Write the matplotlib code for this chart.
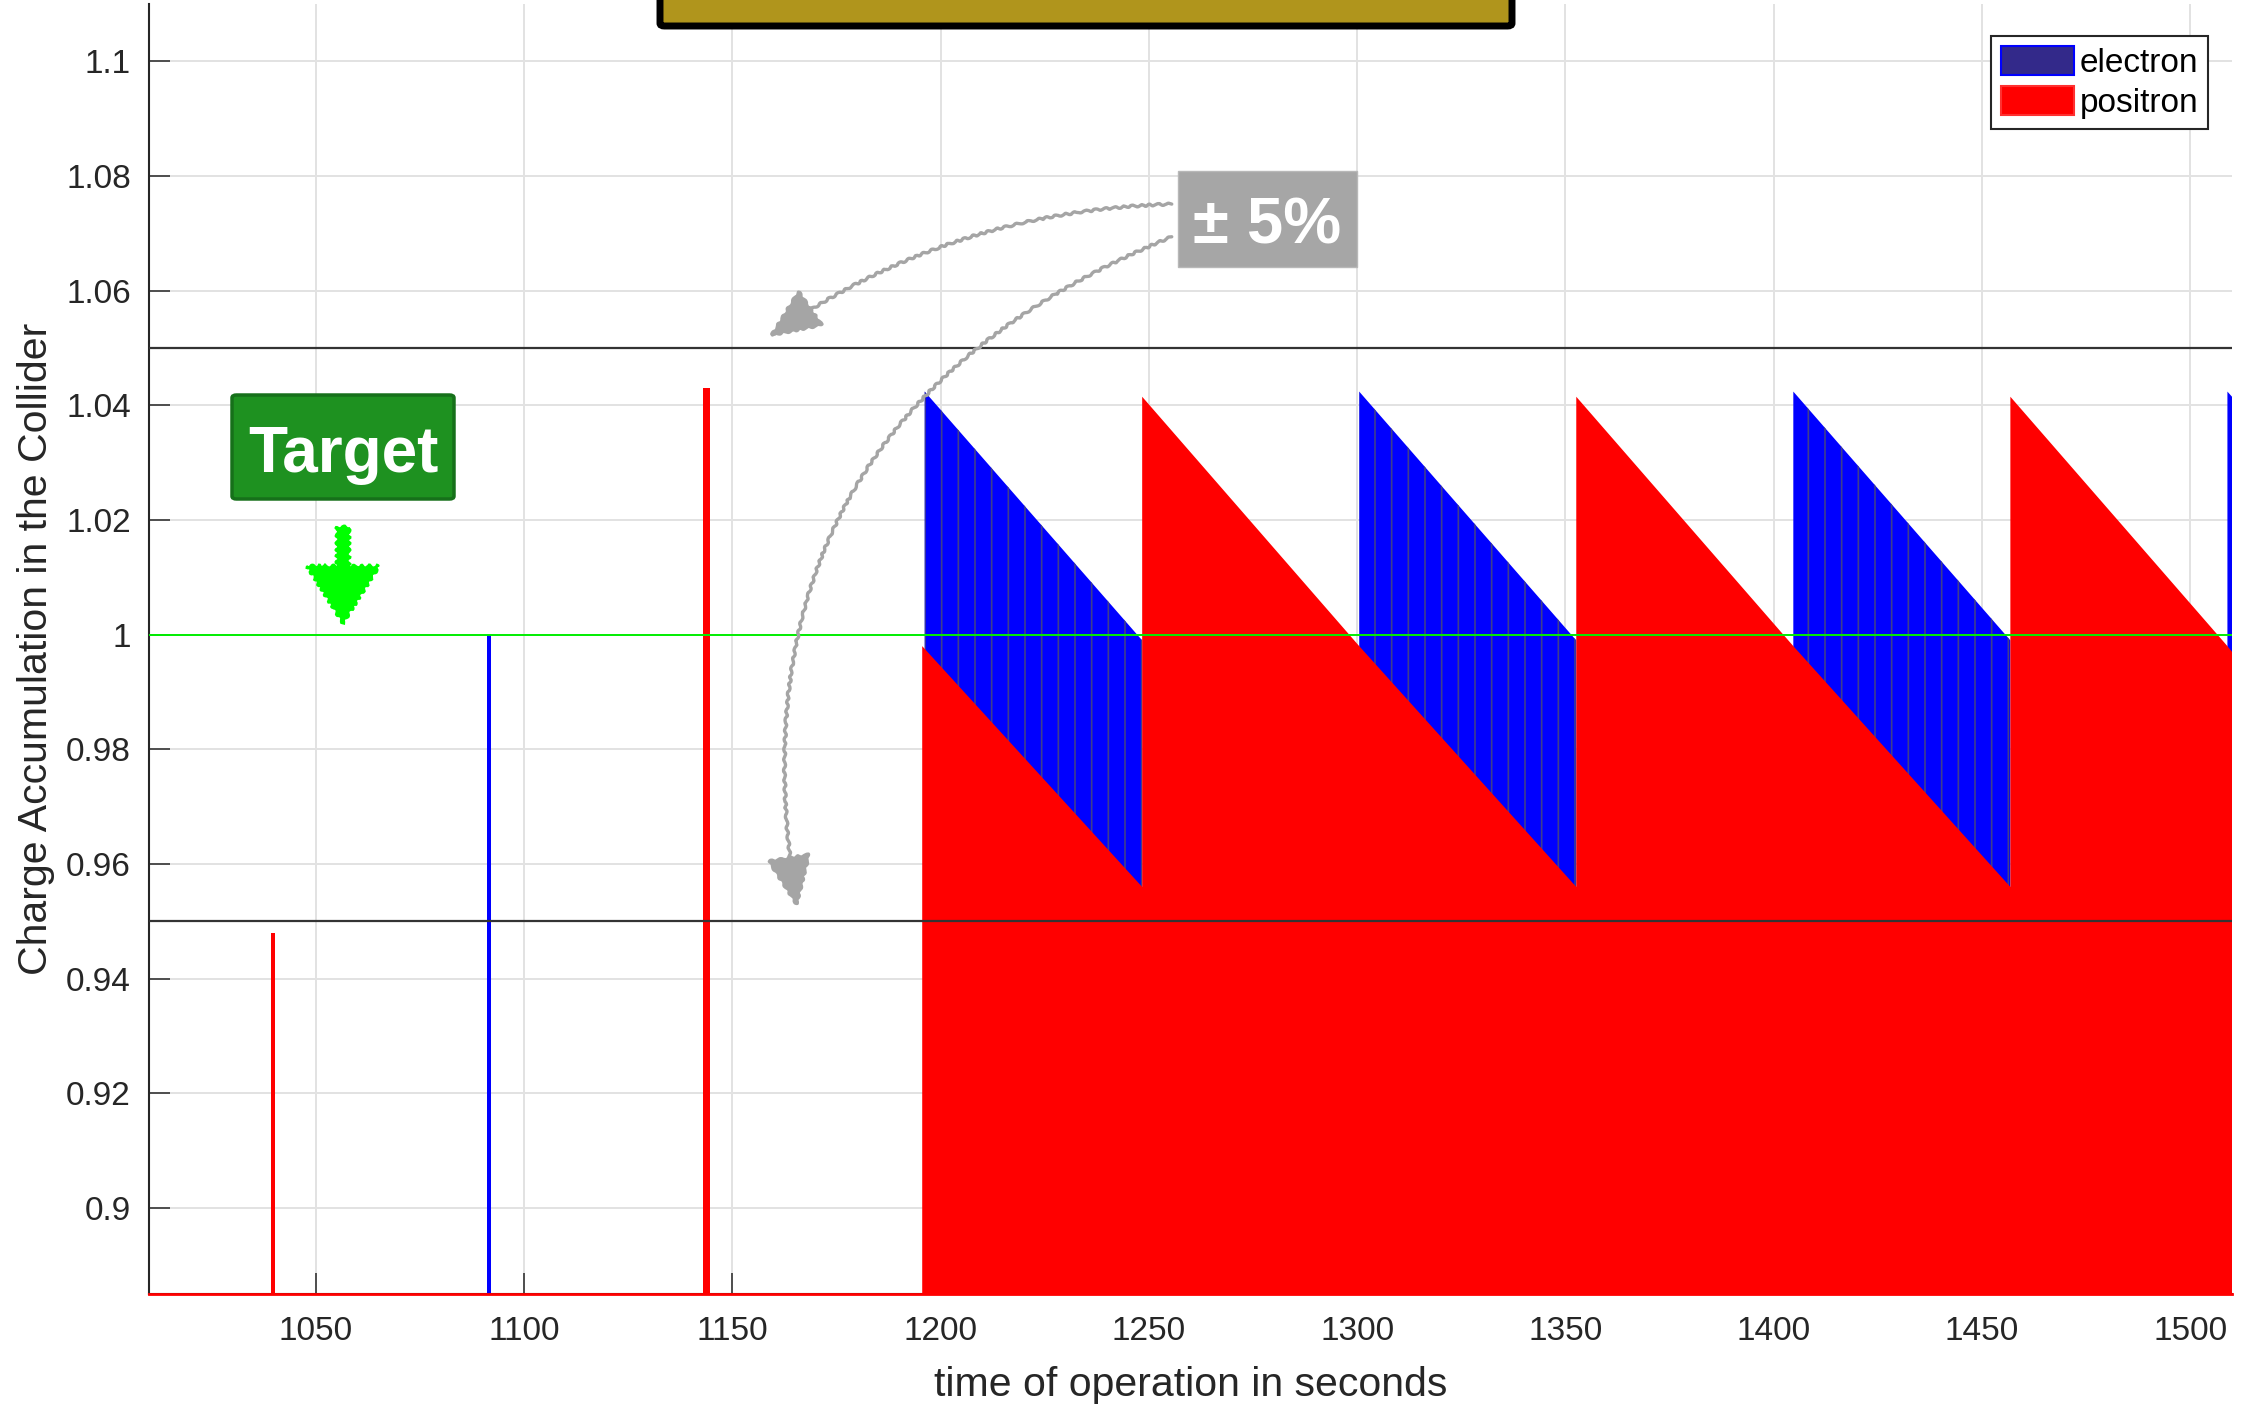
import matplotlib
matplotlib.use('Agg')
import matplotlib.pyplot as plt
import matplotlib.patches as patches
from matplotlib.patches import Patch
from matplotlib.ticker import FixedLocator, FuncFormatter

plt.rcParams['font.family'] = ['Liberation Sans', 'DejaVu Sans']
plt.rcParams['hatch.linewidth'] = 1.2

W, H = 2241, 1404

# first single injections before the top-up mode starts
spike_t = [1039.8, 1091.7, 1143.9]
spike_v = [0.948, 1.000, 1.043]
spike_w = [0.9, 0.9, 1.6]
spike_c = ['#FF0000', '#0000FF', '#FF0000']

# positron sawtooth (corner points of the filled region)
pos_t = [1195.6, 1248.4, 1248.4, 1300.5, 1352.6, 1352.6, 1404.7, 1456.8, 1456.8, 1508.9, 1510.0]
pos_v = [0.998, 0.956, 1.0415, 0.998, 0.956, 1.0415, 0.998, 0.956, 1.0415, 0.998, 0.997]

# electron teeth: start/end time and start/end level
ele_t0 = [1196.2, 1300.5, 1404.7, 1508.9]
ele_t1 = [1248.4, 1352.6, 1456.8, 1510.0]
ele_v0 = [1.0424, 1.0424, 1.0424, 1.0424]
ele_v1 = [0.999, 0.999, 0.999, 1.0415]

target = 1.0
band = [0.95, 1.05]

x_ticks = [1050, 1100, 1150, 1200, 1250, 1300, 1350, 1400, 1450, 1500]
y_ticks = [0.90, 0.92, 0.94, 0.96, 0.98, 1.00, 1.02, 1.04, 1.06, 1.08, 1.10]
x_lim = (1010, 1510)
y_lim = (0.885, 1.11)


def fx(X):
    return X / W


def fy(Y):
    return 1 - Y / H


fig = plt.figure(figsize=(W / 100, H / 100), dpi=100)
ax = fig.add_axes([fx(149), fy(1294), (2232 - 149) / W, (1294 - 4) / H])
ax.set_xlim(*x_lim)
ax.set_ylim(*y_lim)

# electron (blue) bars, drawn first, positron covers them
for t0, t1, v0, v1 in zip(ele_t0, ele_t1, ele_v0, ele_v1):
    ax.fill_between([t0, t1], [v0, v1], 0, facecolor='#0000FF', edgecolor='#3E3E8E',
                    hatch='|', linewidth=0, zorder=2)

# positron (red) area
ax.fill_between(pos_t, pos_v, 0, facecolor='#FF0000', linewidth=0, zorder=3)

# single spikes
ax.bar(spike_t, spike_v, width=spike_w, color=spike_c, linewidth=0, zorder=3)

# reference lines
for b in band:
    ax.axhline(b, color='#333333', lw=1.6, zorder=4)
ax.axhline(target, color='#00EE00', lw=1.4, zorder=4)
ax.axhline(y_lim[0], color='#FF0000', lw=2.0, zorder=6, clip_on=False)

# axes styling
ax.xaxis.set_major_locator(FixedLocator(x_ticks))
ax.yaxis.set_major_locator(FixedLocator(y_ticks))
ax.yaxis.set_major_formatter(FuncFormatter(lambda v, _: f'{v:g}'))
ax.grid(True, color='#E2E2E2', lw=1.4)
ax.set_axisbelow(True)
for s in ['top', 'right']:
    ax.spines[s].set_visible(False)
for s in ['left', 'bottom']:
    ax.spines[s].set_color('#262626')
    ax.spines[s].set_linewidth(1.5)
ax.tick_params(direction='in', length=15, width=1.1, colors='#262626', labelsize=24)
ax.tick_params(axis='y', pad=13)
ax.tick_params(axis='x', pad=16)

ax.set_xlabel('time of operation in seconds', fontsize=29.5, color='#262626')
ax.set_ylabel('Charge Accumulation in the Collider', fontsize=29.5, color='#262626')
ax.xaxis.set_label_coords(0.5, -0.056)
ax.yaxis.set_label_coords(-0.045, 0.5)

handles = [Patch(facecolor='#33298A', edgecolor='#0000FF', lw=1.5),
           Patch(facecolor='#FF0000', edgecolor='#FF3030', lw=1.5)]
leg = ax.legend(handles, ['electron', 'positron'], loc='upper right',
                bbox_to_anchor=(fx(2208), fy(36)), bbox_transform=fig.transFigure,
                borderaxespad=0, fontsize=24, handlelength=2.2, handleheight=0.95,
                handletextpad=0.15, borderpad=0.3, labelspacing=0.22,
                fancybox=False, framealpha=1, edgecolor='#262626')
leg.get_frame().set_linewidth(1.5)
leg.set_zorder(10)

# gold box cut off at the top
gold = patches.FancyBboxPatch((fx(660), fy(26)), (1512 - 660) / W, 60 / H,
                              boxstyle='round,pad=0,rounding_size=0.002',
                              transform=fig.transFigure, facecolor='#B0951C',
                              edgecolor='black', lw=5, clip_on=False)
fig.patches.append(gold)

# Target box
tbox = patches.FancyBboxPatch((fx(232), fy(499)), (454 - 232) / W, (499 - 395) / H,
                              boxstyle='round,pad=0,rounding_size=0.002',
                              transform=fig.transFigure, facecolor='#1E9120',
                              edgecolor='#16701A', lw=2.5)
fig.patches.append(tbox)
fig.text(fx(343), fy(455), 'Target', color='white', fontsize=46, fontweight='bold',
         ha='center', va='center')

# hand-drawn green arrow
arrow_xy = [(337, 527), (349, 527), (349, 566), (379, 566), (343, 623), (307, 566), (337, 566)]
garrow = patches.Polygon([(fx(x), fy(y)) for x, y in arrow_xy], closed=True,
                         transform=fig.transFigure, facecolor='#00FF00',
                         edgecolor='#00FF00', lw=1.5)
garrow.set_sketch_params(1.5, 8, 2)
fig.patches.append(garrow)

# +-5% box
gbox = patches.Rectangle((fx(1178), fy(267)), (1357 - 1178) / W, (267 - 171) / H,
                         transform=fig.transFigure, facecolor='#A6A6A6',
                         edgecolor='#B8B8B8', lw=1)
fig.patches.append(gbox)
fig.text(fx(1267), fy(227), '± 5%', color='white', fontsize=47, fontweight='bold',
         ha='center', va='center')

# curved grey arrows pointing at the band limits
for start, end, rad in [((1255.5, 1.0751), (1158.8, 1.0519), 0.15),
                        ((1255.5, 1.0694), (1165.6, 0.9524), 0.40)]:
    ann = ax.annotate('', xy=end, xytext=start, annotation_clip=False,
                      arrowprops=dict(arrowstyle='-|>,head_length=0.6,head_width=0.26',
                                      color='#A5A5A5', lw=2.4, mutation_scale=55,
                                      shrinkA=0, shrinkB=0,
                                      connectionstyle=f'arc3,rad={rad}'))
    ann.arrow_patch.set_sketch_params(1.0, 10, 2)
    ann.set_zorder(7)

fig.savefig('out.png', dpi=100)
